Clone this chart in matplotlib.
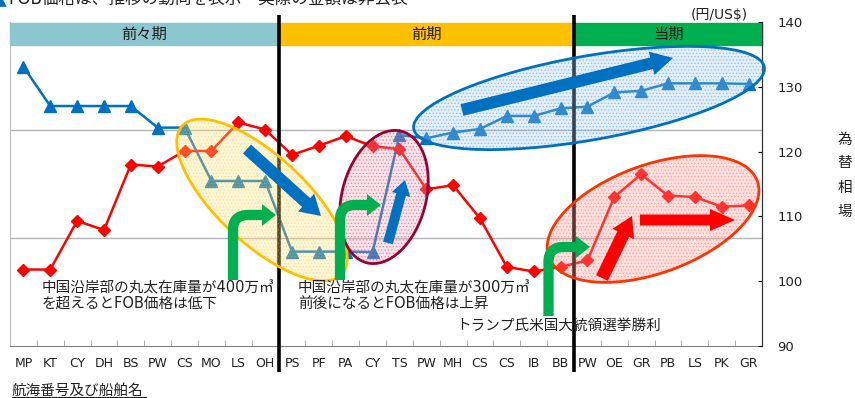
import numpy as np
import matplotlib
matplotlib.use("Agg")
import matplotlib.pyplot as plt
from matplotlib.patches import Ellipse, FancyArrow, Rectangle, PathPatch, Polygon
from matplotlib.path import Path
from matplotlib.transforms import Affine2D, blended_transform_factory

plt.rcParams['font.family'] = ['DejaVu Sans', 'Noto Sans CJK JP']
plt.rcParams['hatch.linewidth'] = 0.6

# ship / voyage names
ships = ['MP', 'KT', 'CY', 'DH', 'BS', 'PW', 'CS', 'MO', 'LS', 'OH',
         'PS', 'PF', 'PA', 'CY', 'TS', 'PW', 'MH', 'CS', 'CS', 'IB', 'BB',
         'PW', 'OE', 'GR', 'PB', 'LS', 'PK', 'GR']
# FOB price (index, real values not disclosed) - left hidden axis
fob = [129.3, 111.1, 111.1, 111.1, 111.1, 101.1, 101.1, 76.4, 76.4, 76.4,
       43.7, 43.7, 43.7, 43.5, 97.7, 96.2, 98.8, 100.5, 106.5, 106.5, 110.0,
       110.8, 117.4, 118.1, 121.6, 121.6, 121.6, 121.3]
# exchange rate yen / US$ - right axis
fx = [101.8, 101.8, 109.3, 107.9, 118.0, 117.7, 120.1, 120.1, 124.5, 123.4,
      119.5, 120.9, 122.4, 120.8, 120.4, 114.2, 114.8, 109.7, 102.2, 101.5, 102.2,
      103.2, 113.0, 116.5, 113.2, 113.0, 111.5, 111.7]
periods = ['前々期', '前期', '当期']
period_bounds = [-0.5, 9.5, 20.5, 27.5]
period_colors = ['#8CC6CE', '#FFC000', '#00B050']

W, H = 855, 398
fig = plt.figure(figsize=(W / 100, H / 100), dpi=100)
ax = fig.add_axes([10 / W, (H - 346) / H, 752 / W, 324 / H])
x = np.arange(len(ships))

ax.plot(x, fob, color='#0070C0', lw=1.8, marker='^', ms=8, zorder=3)
ax.set_xlim(-0.5, len(ships) - 0.5)
ax.set_ylim(0, 150)
ax.set_yticks([50, 100])
ax.grid(axis='y', color='#B4B4B4', lw=1)
ax.set_xticks(x)
ax.set_xticklabels(ships, fontsize=9, color='#222222')
ax.set_xticks(np.arange(len(ships) + 1) - 0.5, minor=True)
ax.tick_params(axis='x', which='major', length=0, pad=8)
ax.tick_params(axis='x', which='minor', direction='in', length=4, color='#A0A0A0')
ax.spines['top'].set_visible(False)
ax.spines['left'].set_color('#BFBFBF')
ax.spines['bottom'].set_color('#808080')

ax2 = ax.twinx()
ax.tick_params(axis='y', which='both', left=False, right=False, labelleft=False, labelright=False)
ax2.plot(x, fx, color='#FF0000', lw=1.8, marker='D', ms=6.5, zorder=2)
ax2.set_ylim(90, 140)
ax2.set_yticks(np.arange(90, 141, 10))
ax2.tick_params(axis='y', direction='in', length=3, pad=11, labelsize=9.5, labelcolor='#222222')
ax2.spines['top'].set_visible(False)
ax2.spines['left'].set_visible(False)
ax2.spines['bottom'].set_visible(False)
ax2.spines['right'].set_color('#333333')

# period bands + separators
bt = blended_transform_factory(ax2.transData, ax2.transAxes)
for i, name in enumerate(periods):
    x0, x1 = period_bounds[i], period_bounds[i + 1]
    ax2.add_patch(Rectangle((x0, 0.929), x1 - x0, 0.068, transform=bt,
                            color=period_colors[i], clip_on=False, zorder=1))
    ax2.text((x0 + x1) / 2, 0.963, name, transform=bt, ha='center', va='center',
             fontsize=11, color='#1a1a1a', zorder=6)
for b in period_bounds[1:3]:
    ax2.plot([b, b], [-0.08, 1.022], transform=bt, color='black', lw=2.6,
             clip_on=False, zorder=2.5, solid_capstyle='butt')

# annotations in pixel coords (y down)
px = Affine2D().scale(1 / W, -1 / H).translate(0, 1) + fig.transFigure


def ell(cx, cy, w, h, ang, edge, fill):
    ax2.add_patch(Ellipse((cx, cy), w, h, angle=ang, transform=px, facecolor=fill,
                          edgecolor='none', alpha=0.32, clip_on=False, zorder=3))
    ax2.add_patch(Ellipse((cx, cy), w, h, angle=ang, transform=px, facecolor='none',
                          edgecolor=edge, hatch='.....', lw=0, alpha=0.3, clip_on=False, zorder=3))
    ax2.add_patch(Ellipse((cx, cy), w, h, angle=ang, transform=px, facecolor='none',
                          edgecolor=edge, lw=2, clip_on=False, zorder=3.2))


ell(262, 200, 218, 88, 42.9, '#FFC000', '#FFE38A')
ell(384, 197, 136, 84, -75, '#990033', '#F0A8B8')
ell(589, 98, 356, 84, -10, '#0070C0', '#A9CBEA')
ell(653, 219, 222, 108, -20, '#FF3300', '#FFA0A0')


def arrow(x0, y0, x1, y1, w, hw, hl, color):
    ax2.add_patch(FancyArrow(x0, y0, x1 - x0, y1 - y0, width=w, head_width=hw,
                             head_length=hl, length_includes_head=True, transform=px,
                             color=color, lw=0, clip_on=False, zorder=4))


arrow(247, 149, 321, 216, 12, 24, 20, '#0070C0')
arrow(388, 243, 405, 180, 10, 19, 15, '#0070C0')
arrow(462, 110, 673, 58, 12, 24, 22, '#0070C0')
arrow(602, 278, 632, 216, 13, 24, 20, '#FF0000')
arrow(640, 220, 735, 220, 11, 22, 25, '#FF0000')


def bent(xs, yb, ya, xh, r=15, color='#00B050'):
    verts = [(xs, yb), (xs, ya + r), (xs, ya), (xs + r, ya), (xh + 1, ya)]
    codes = [Path.MOVETO, Path.LINETO, Path.CURVE3, Path.CURVE3, Path.LINETO]
    ax2.add_patch(PathPatch(Path(verts, codes), transform=px, facecolor='none',
                            edgecolor=color, lw=7.4, capstyle='butt', clip_on=False, zorder=4))
    ax2.add_patch(Polygon([(xh, ya - 11), (xh, ya + 11), (xh + 14, ya)], transform=px,
                          color=color, lw=0, clip_on=False, zorder=4))


bent(233, 280, 215, 262)
bent(340, 280, 205, 367)
bent(548.5, 316, 247, 576)

tk = dict(transform=px, fontsize=10.5, color='#222222', va='center', ha='left', zorder=5)
ax2.text(42, 288, '中国沿岸部の丸太在庫量が400万㎥', **tk)
ax2.text(42, 303, 'を超えるとFOB価格は低下', **tk)
ax2.text(298, 288, '中国沿岸部の丸太在庫量が300万㎥', **tk)
ax2.text(298, 303, '前後になるとFOB価格は上昇', **tk)
ax2.text(456, 325, 'トランプ氏米国大統領選挙勝利', **tk)

fig.text(719, 15, '(円/US$)', transform=px, fontsize=10, ha='center', va='center', color='#222222')
fig.text(845, 175, '為\n替\n相\n場', transform=px, fontsize=10.5, ha='center', va='center',
         linespacing=1.75, color='#222222')
fig.text(12, 390, '航海番号及び船舶名', transform=px, fontsize=10.5, ha='left', va='center', color='#222222')
fig.add_artist(plt.Line2D([12, 146], [397, 397], transform=px, color='#222222', lw=0.8))
fig.text(8, 8, 'FOB価格は、推移の動向を表示・実際の金額は非公表', transform=px, fontsize=12,
         ha='left', va='bottom', color='#222222')
fig.text(-5, 8, '▲', transform=px, fontsize=11, ha='left', va='bottom', color='#0070C0')

fig.savefig('out.png', dpi=100)
